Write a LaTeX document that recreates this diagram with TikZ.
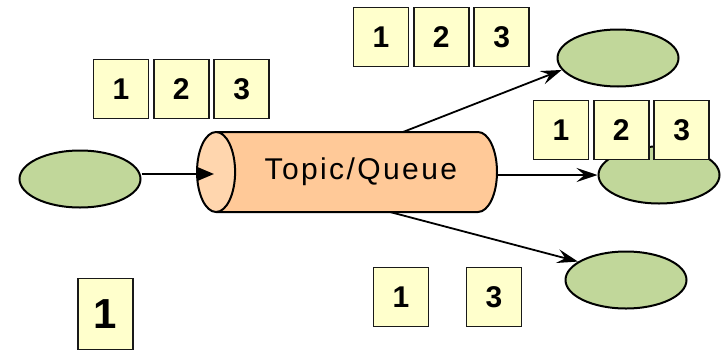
\documentclass[tikz,border=0pt]{standalone}
\usepackage{fontspec}
\setmainfont{Liberation Sans}
\usetikzlibrary{arrows.meta}
\usetikzlibrary{positioning}
\usetikzlibrary{shapes.geometric}

\definecolor{msgyellow}{RGB}{255,255,204}
\definecolor{appgreen}{RGB}{193,215,154}
\definecolor{pipebody}{RGB}{255,201,152}
\definecolor{pipeend}{RGB}{255,214,174}

\tikzset{
  msg/.style={draw=black!90, line width=1.8pt, fill=msgyellow, minimum width=55pt, minimum height=59pt, inner sep=0pt, font=\fontsize{30}{32}\selectfont\bfseries},
  app/.style={ellipse, draw, line width=2pt, fill=appgreen, minimum width=121pt, minimum height=57pt, inner sep=0pt},
  flow/.style={line width=1.8pt, -{Stealth[length=21pt,width=14pt,inset=8pt]}},
  feed/.style={line width=1.8pt, -{Triangle[length=16pt,width=13pt]}},
}

\begin{document}
\begin{tikzpicture}[x=1pt,y=-1pt]
	\useasboundingbox (0,0) rectangle (722,351);

	% producer and consumers
	\node[app] (src) at (80,179) {};
	\node[app] (c1) at (618,58) {};
	\node[app] (c2) at (659,175) {};
	\node[app] (c3) at (626,280) {};

	% the queue
	\node[cylinder, shape border rotate=180, draw, line width=2pt, aspect=1.1,
		minimum height=300pt, minimum width=80pt, anchor=shape center,
		cylinder uses custom fill, cylinder body fill=pipebody, cylinder end fill=pipeend,
		font=\fontsize{30}{32}\selectfont\addfontfeatures{LetterSpace=8}] (queue) at (347,172) {Topic/Queue};
	\coordinate (qin) at ([xshift=18pt,yshift=5pt]src.center -| queue.west);

	\draw[feed] (src.east |- qin) -- (qin);
	\draw[flow] ([xshift=56pt,yshift=40pt]queue.shape center) -- (c1.192);
	\draw[flow] ([xshift=150pt,yshift=-3pt]queue.shape center) -- (c2.west);
	\draw[flow] ([xshift=43pt,yshift=-40pt]queue.shape center) -- (c3.159);

	% messages
	\node[msg] (a1) at (121,89) {1};
	\node[msg, right=3.5pt of a1] (a2) {2};
	\node[msg, right=3.5pt of a2] (a3) {3};

	\node[msg] (b1) at (381,37) {1};
	\node[msg, right=3.5pt of b1] (b2) {2};
	\node[msg, right=3.5pt of b2] (b3) {3};

	\node[msg] (d1) at (561,130) {1};
	\node[msg, right=3.5pt of d1] (d2) {2};
	\node[msg, right=3.5pt of d2] (d3) {3};

	\node[msg] (e1) at (401,297) {1};
	\node[msg] (e3) at (494,297) {3};

	\node[msg, minimum height=71pt, font=\fontsize{42}{44}\selectfont\bfseries] (f1) at (105.5,314) {1};
\end{tikzpicture}
\end{document}
